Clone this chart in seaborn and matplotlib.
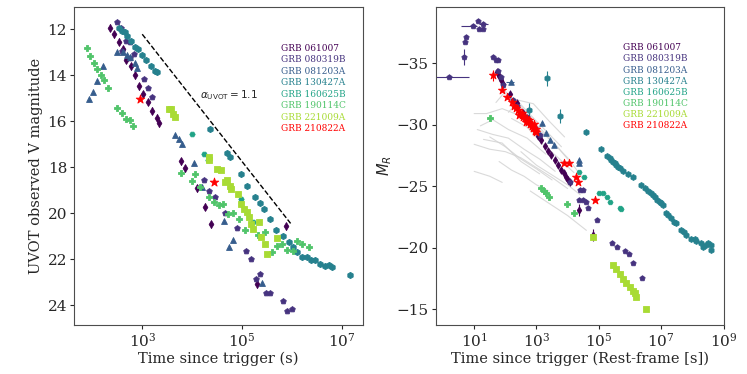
import numpy as np
import matplotlib
matplotlib.use('Agg')
import matplotlib.pyplot as plt
from matplotlib.ticker import NullLocator
import seaborn as sns

sns.set_theme(style='ticks')
plt.rcParams['font.family'] = ['DejaVu Serif']
plt.rcParams['mathtext.fontset'] = 'dejavusans'

grbs = ['GRB 061007', 'GRB 080319B', 'GRB 081203A', 'GRB 130427A',
        'GRB 160625B', 'GRB 190114C', 'GRB 221009A', 'GRB 210822A']
markers = ['d', 'p', '^', 'h', 'H', 'P', 's', '*']

# ---- left panel: UVOT observed V magnitude (log10 t [s], mag) ----
uv_061007_lt = [2.35, 2.43, 2.53, 2.61, 2.67, 2.77, 2.85, 2.94, 3.02, 3.11, 3.19, 3.29, 3.34,
                3.77, 3.85, 4.10, 4.25, 4.38, 5.87, 5.29]
uv_061007_m = [11.93, 12.22, 12.55, 12.88, 13.32, 13.61, 14.00, 14.48, 14.83, 15.17, 15.55, 15.86, 16.10,
               17.74, 18.06, 18.93, 19.72, 20.48, 20.58, 23.09]
uv_080319B_lt = [2.50, 2.57, 2.67, 2.75, 2.59, 2.76, 2.83, 3.04, 3.12, 3.20, 4.23, 4.34, 4.46, 4.66,
                 4.89, 5.07, 5.17, 5.35, 5.27, 5.47, 5.55, 5.81, 5.90, 6.00]
uv_080319B_m = [11.68, 11.97, 12.51, 12.55, 12.94, 13.25, 13.06, 14.17, 14.58, 14.97, 18.57, 19.06, 19.29,
                20.01, 20.64, 21.64, 22.01, 22.65, 22.86, 23.49, 23.49, 23.83, 24.25, 24.19]
uv_081203A_lt = [1.94, 2.02, 2.09, 2.22, 2.50, 2.61, 2.69, 2.75, 2.85, 2.90, 3.65, 3.74, 3.79, 4.03,
                 4.19, 4.63, 4.74, 4.82, 5.39]
uv_081203A_m = [15.03, 14.72, 14.26, 13.61, 13.00, 12.99, 13.14, 13.23, 13.49, 13.70, 16.62, 16.77, 17.00,
                17.81, 18.86, 20.36, 21.46, 21.16, 23.06]
uv_130427A_lt = [2.53, 2.59, 2.65, 2.70, 2.77, 2.85, 2.91, 2.99, 3.07, 3.17, 3.25, 3.30, 4.35, 4.69,
                 4.75, 4.97, 5.10, 5.26, 5.35, 5.43, 5.55, 5.67, 5.82, 5.93, 6.02, 6.10, 6.19, 6.29,
                 6.37, 6.46, 6.55, 6.65, 6.74, 6.79, 7.15]
uv_130427A_m = [11.97, 12.07, 12.12, 12.28, 12.51, 12.77, 12.88, 13.13, 13.35, 13.61, 13.81, 13.86, 16.33,
                17.38, 17.58, 18.30, 18.81, 19.32, 19.58, 19.84, 20.26, 20.74, 20.99, 21.25, 21.49,
                21.70, 21.90, 21.90, 22.06, 22.06, 22.22, 22.29, 22.25, 22.33, 22.68]
uv_160625B_lt = [3.99, 4.23, 4.32, 4.97, 5.21]
uv_160625B_m = [16.58, 17.45, 17.70, 19.39, 20.38]
uv_190114C_lt = [1.90, 1.95, 2.03, 2.10, 2.17, 2.24, 2.31, 2.50, 2.59, 2.67, 2.75, 2.81,
                 3.77, 3.99, 4.06, 4.16, 4.34, 4.44, 4.54, 4.62, 4.71, 4.82, 4.93, 5.06, 5.31,
                 5.46, 5.59, 5.69, 5.79, 5.90, 6.01, 6.10, 6.19, 6.33]
uv_190114C_m = [12.80, 13.17, 13.45, 13.72, 14.01, 14.19, 14.58, 15.42, 15.64, 15.90, 15.96, 16.20,
                18.25, 18.59, 18.30, 18.88, 19.29, 19.51, 19.67, 19.61, 20.04, 19.99, 20.25, 20.74,
                20.96, 20.84, 21.68, 21.43, 21.35, 21.62, 21.64, 21.20, 21.35, 21.46]
uv_221009A_lt = [3.53, 3.57, 3.61, 3.65, 4.33, 4.33, 4.50, 4.57, 4.65, 4.69, 4.75, 4.78, 4.91, 4.98,
                 5.03, 5.09, 5.13, 5.18, 5.22, 5.34, 5.38, 5.45, 5.49, 5.69]
uv_221009A_m = [15.46, 15.49, 15.67, 15.81, 17.55, 17.67, 18.10, 18.13, 18.64, 18.57, 18.83, 18.94, 19.17,
                19.61, 19.84, 19.96, 20.19, 20.48, 20.71, 20.39, 21.03, 21.35, 21.78, 21.07]
uv_210822A_lt = [2.96, 4.43]
uv_210822A_m = [15.03, 18.64]

# power-law guide, alpha_UVOT = 1.1
guide_lt = [3.0, 5.97]
guide_m = [12.22, 20.45]

# ---- right panel: rest-frame absolute magnitude M_R ----
mr_061007_lt = [1.74, 1.80, 1.87, 1.93, 2.14, 2.36, 2.57, 2.78, 2.94, 3.05, 3.16, 3.27, 3.37, 3.48,
                3.59, 3.69, 3.80, 3.89, 3.96, 4.02, 4.09, 4.37, 4.81]
mr_061007_m = [-34.32, -33.97, -33.64, -33.32, -32.50, -31.74, -30.93, -30.17, -29.57, -29.08, -28.76,
               -28.30, -27.89, -27.54, -27.13, -26.72, -26.32, -26.04, -25.72, -25.50, -25.34, -23.06, -21.00]
mr_080319B_lt = [0.19, 0.66, 0.70, 0.75, 0.96, 1.11, 1.29, 1.16, 1.27, 1.61, 1.69, 1.77, 1.78, 1.86,
                 1.91, 2.25, 2.38, 2.68, 2.94, 3.11, 4.07, 4.39, 4.49, 4.37, 4.49, 4.60, 4.65, 4.95,
                 5.43, 5.58, 5.83, 5.97, 6.10, 6.37]
mr_080319B_m = [-33.91, -35.49, -36.76, -37.12, -38.04, -38.39, -38.20, -37.77, -37.77, -35.49, -35.22,
                -35.27, -34.40, -33.91, -33.24, -32.01, -31.55, -30.66, -29.71, -29.17, -25.37, -24.69,
                -24.69, -23.87, -23.87, -23.74, -23.20, -22.25, -20.40, -20.07, -19.75, -19.48, -18.72,
                -17.50]
mr_081203A_lt = [2.19, 3.17, 3.32, 3.43, 3.56, 4.37, 4.37]
mr_081203A_m = [-33.43, -30.17, -29.30, -28.76, -28.35, -27.13, -26.91]
mr_130427A_lt = [3.34, 2.76, 3.76, 4.59, 5.08, 5.26, 5.35, 5.40, 5.46, 5.51, 5.56, 5.62, 5.67, 5.78,
                 5.94, 6.10, 6.36, 6.47, 6.58, 6.68, 6.74, 6.79, 6.87, 6.95, 7.00, 7.06, 7.17, 7.22,
                 7.33, 7.40, 7.49, 7.65, 7.72, 7.81, 7.97, 8.07, 8.13, 8.29, 8.34, 8.45, 8.50, 8.61, 8.61]
mr_130427A_m = [-33.78, -31.20, -30.71, -29.41, -28.03, -27.46, -27.27, -27.14, -27.00, -26.86, -26.72,
                -26.59, -26.45, -26.26, -25.99, -25.77, -25.10, -24.82, -24.63, -24.42, -24.28, -24.09,
                -23.87, -23.74, -23.60, -23.47, -22.79, -22.65, -22.38, -22.11, -21.97, -21.43, -21.30,
                -21.02, -20.67, -20.67, -20.56, -20.35, -20.07, -20.21, -20.40, -20.21, -19.80]
mr_160625B_lt = [4.37, 4.52, 5.01, 5.13, 5.26, 5.35, 5.67, 5.72]
mr_160625B_m = [-26.18, -25.77, -24.47, -24.42, -24.15, -23.74, -23.20, -23.14]
mr_190114C_lt = [1.52, 3.16, 3.23, 3.32, 3.40, 3.98, 4.19]
mr_190114C_m = [-30.52, -24.82, -24.63, -24.42, -24.15, -23.55, -22.84]
mr_221009A_lt = [4.81, 5.46, 5.56, 5.67, 5.78, 5.88, 5.99, 6.10, 6.15, 6.18, 6.52]
mr_221009A_m = [-20.89, -18.58, -18.23, -17.85, -17.41, -17.09, -16.82, -16.49, -16.28, -15.95, -15.00]
mr_210822A_lt = [1.61, 1.90, 2.04, 2.20, 2.27, 2.34, 2.40, 2.44, 2.46, 2.52, 2.55, 2.57, 2.62, 2.66,
                 2.68, 2.73, 2.76, 2.78, 2.84, 2.87, 2.89, 2.91, 2.94, 2.97, 3.00, 3.87, 4.05, 4.26,
                 4.33, 4.87]
mr_210822A_m = [-34.02, -32.83, -32.23, -31.88, -31.53, -31.34, -31.20, -30.79, -30.98, -30.79, -30.98,
                -30.66, -30.52, -30.25, -30.44, -30.25, -30.39, -30.06, -29.98, -29.90, -29.71, -30.06,
                -29.52, -29.63, -29.36, -26.91, -26.86, -25.77, -25.31, -23.87]

# comparison sample (grey tracks)
grey_lt = [
    [1.0, 1.4, 1.9, 2.4, 2.9],
    [1.1, 1.6, 2.1, 2.6, 3.1, 3.6],
    [1.0, 1.5, 2.0, 2.5, 3.0, 3.5, 4.0],
    [1.0, 1.5, 1.9],
    [2.8, 3.4, 4.0, 4.6],
    [2.0, 2.5, 3.0, 3.5, 4.0],
    [1.7, 2.0, 2.3, 2.6, 2.9],
    [1.5, 2.0, 2.5, 3.0, 3.5],
    [2.2, 2.7, 3.2, 3.7, 4.2],
    [1.8, 2.2, 2.6, 3.0, 3.4],
    [2.4, 2.9, 3.4, 3.9],
    [2.5, 3.0, 3.5, 4.0, 4.4],
    [3.0, 3.5, 4.0, 4.5],
    [1.3, 1.9, 2.5, 3.1],
    [1.2, 1.6, 2.1, 2.7, 3.3],
    [2.1, 2.4, 2.8, 3.3, 3.8],
]
grey_m = [
    [-30.9, -30.9, -31.3, -30.8, -29.8],
    [-29.6, -29.2, -28.9, -28.0, -27.2, -26.2],
    [-28.4, -28.0, -27.8, -27.3, -26.5, -25.7, -24.8],
    [-26.2, -25.8, -25.3],
    [-24.6, -23.6, -22.6, -21.4],
    [-32.3, -31.5, -30.0, -28.7, -27.2],
    [-31.8, -32.7, -31.9, -31.0, -29.9],
    [-29.0, -28.2, -27.2, -26.4, -25.5],
    [-30.5, -29.8, -28.4, -27.3, -26.1],
    [-27.0, -26.3, -25.8, -25.1, -24.6],
    [-32.0, -31.7, -30.3, -29.0],
    [-27.8, -26.7, -25.9, -25.1, -24.3],
    [-29.8, -28.6, -27.3, -25.6],
    [-28.8, -28.5, -27.0, -26.0],
    [-29.9, -30.4, -29.6, -28.9, -27.6],
    [-31.0, -31.9, -30.8, -29.5, -28.2],
]

cmap = plt.get_cmap('viridis')
colors = [cmap(v) for v in [0.0, 0.145, 0.29, 0.435, 0.58, 0.725, 0.87]] + ['red']

left_sets = [(uv_061007_lt, uv_061007_m), (uv_080319B_lt, uv_080319B_m), (uv_081203A_lt, uv_081203A_m),
             (uv_130427A_lt, uv_130427A_m), (uv_160625B_lt, uv_160625B_m), (uv_190114C_lt, uv_190114C_m),
             (uv_221009A_lt, uv_221009A_m), (uv_210822A_lt, uv_210822A_m)]
right_sets = [(mr_061007_lt, mr_061007_m), (mr_080319B_lt, mr_080319B_m), (mr_081203A_lt, mr_081203A_m),
              (mr_130427A_lt, mr_130427A_m), (mr_160625B_lt, mr_160625B_m), (mr_190114C_lt, mr_190114C_m),
              (mr_221009A_lt, mr_221009A_m), (mr_210822A_lt, mr_210822A_m)]
sizes = [16, 18, 18, 20, 15, 22, 18, 42]

fig = plt.figure(figsize=(7.47, 3.74), dpi=100)
ax1 = fig.add_axes([0.099, 0.131, 0.387, 0.850])
ax2 = fig.add_axes([0.583, 0.131, 0.386, 0.850])

# left panel
t = 10 ** np.array(uv_061007_lt)
ax1.errorbar(t, uv_061007_m, yerr=0.15, fmt='none', ecolor=colors[0], elinewidth=0.8, zorder=2)
for (lt, m), c, mk, s in zip(left_sets, colors, markers, sizes):
    sns.scatterplot(x=10 ** np.array(lt), y=m, marker=mk, color=c, s=s, edgecolor=c, linewidth=0.6,
                    ax=ax1, zorder=3)
ax1.plot(10 ** np.array(guide_lt), guide_m, color='black', ls='--', lw=1.0)
ax1.text(10 ** 4.15, 14.87, r'$\alpha_{\rm UVOT} = 1.1$', fontsize=7.5, va='center', ha='left',
         family='DejaVu Sans')

ax1.set_xscale('log')
ax1.set_xlim(10 ** 1.633, 10 ** 7.42)
ax1.set_ylim(24.87, 11.04)
ax1.set_xticks([1e3, 1e5, 1e7])
ax1.xaxis.set_minor_locator(NullLocator())
ax1.set_yticks([12, 14, 16, 18, 20, 22, 24])
ax1.set_xlabel('Time since trigger (s)', fontsize=10.5, labelpad=1)
ax1.set_ylabel('UVOT observed V magnitude', fontsize=10.5, labelpad=3)

# right panel
for lt, m in zip(grey_lt, grey_m):
    ax2.plot(10 ** np.array(lt), m, color='lightgrey', lw=0.8, alpha=0.85, zorder=1)

ax2.errorbar([10 ** 0.19], [-33.91], xerr=[[1.24], [5.04]], fmt='none', ecolor=colors[1], elinewidth=0.8)
ax2.errorbar([10 ** 0.96, 10 ** 1.29], [-38.04, -38.20], xerr=[[5.2, 5.7], [2.8, 7.6]], fmt='none',
             ecolor=colors[1], elinewidth=0.8)
ax2.errorbar([10 ** 0.66], [-35.49], yerr=0.65, fmt='none', ecolor=colors[1], elinewidth=0.8)
ax2.errorbar([10 ** 2.19], [-33.43], xerr=[[47], [32]], fmt='none', ecolor=colors[2], elinewidth=0.8)
ax2.errorbar(10 ** np.array([3.34, 2.76, 3.76]), [-33.78, -31.20, -30.71], yerr=0.6, fmt='none',
             ecolor=colors[3], elinewidth=0.8)
ax2.errorbar(10 ** np.array([4.37, 4.81]), [-23.06, -21.00], yerr=0.5, fmt='none', ecolor=colors[0],
             elinewidth=0.8)
ax2.errorbar([10 ** 1.61], [-34.02], yerr=0.45, fmt='none', ecolor='red', elinewidth=0.8)
for (lt, m), c, mk, s in zip(right_sets, colors, markers, sizes):
    sns.scatterplot(x=10 ** np.array(lt), y=m, marker=mk, color=c, s=s * 0.9, edgecolor=c, linewidth=0.6,
                    ax=ax2, zorder=3)

ax2.set_xscale('log')
ax2.set_xlim(10 ** -0.24, 10 ** 9.01)
ax2.set_ylim(-13.7, -39.56)
ax2.set_xticks([1e1, 1e3, 1e5, 1e7, 1e9])
ax2.xaxis.set_minor_locator(NullLocator())
ax2.set_yticks([-35, -30, -25, -20, -15])
ax2.set_xlabel('Time since trigger (Rest-frame [s])', fontsize=10.5, labelpad=1)
ax2.set_ylabel(r'$M_R$', fontsize=10.5, labelpad=2)

# coloured name lists
for ax, x0, y0, dy in [(ax1, 0.715, 0.870, 0.0362), (ax2, 0.652, 0.872, 0.0350)]:
    for i, (name, c) in enumerate(zip(grbs, colors)):
        ax.text(x0, y0 - i * dy, name, color=c, fontsize=6.5, transform=ax.transAxes, va='center')

for ax in (ax1, ax2):
    ax.tick_params(labelsize=11, length=3, width=0.8, pad=2)
    for sp in ax.spines.values():
        sp.set_color('0.3')
        sp.set_linewidth(0.8)

fig.savefig('out.png', dpi=100)
